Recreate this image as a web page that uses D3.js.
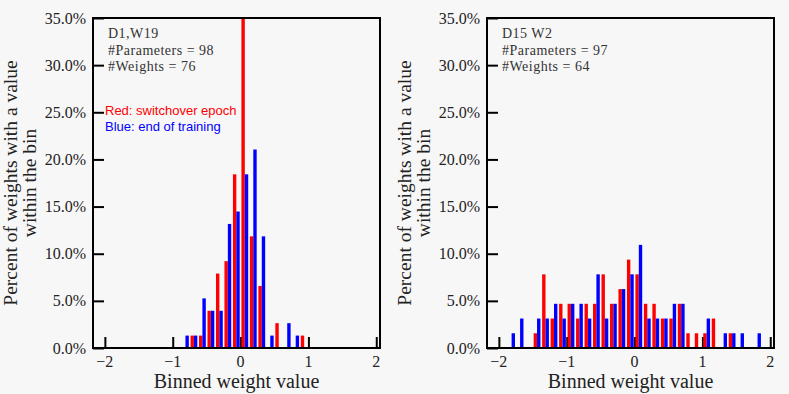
<!DOCTYPE html>
<html><head><meta charset="utf-8">
<script src="https://cdn.jsdelivr.net/npm/d3@7"></script>
<style>html,body{margin:0;padding:0;background:#f7f7f7;}</style>
</head><body>
<svg id="chart" width="789" height="394"></svg>
<script>
const binWidth = 0.125;
const xTicks = [-2, -1, 0, 1, 2];
const yTicks = [0, 5, 10, 15, 20, 25, 30, 35];

const leftBins = [-0.875,-0.75,-0.625,-0.5,-0.375,-0.25,-0.125,0,0.125,0.25,0.375,0.5,0.625,0.75,0.875];
const leftRed  = [0,1,1,3,6,7,14,27,9,5,0,2,0,0,1];
const leftBlue = [1,1,4,3,3,10,11,14,16,9,1,0,2,1,0];
const leftInfo = ["D1,W19", "#Parameters = 98", "#Weights = 76"];
const leftWeights = 76;

const rightBins = [-1.875,-1.75,-1.625,-1.5,-1.375,-1.25,-1.125,-1,-0.875,-0.75,-0.625,-0.5,-0.375,-0.25,-0.125,0,0.125,0.25,0.375,0.5,0.625,0.75,0.875,1,1.125,1.25,1.375,1.5,1.625,1.75];
const rightRed  = [0,0,0,1,5,2,3,3,2,3,3,5,3,4,6,5,3,3,2,2,3,1,1,1,2,0,1,0,0,0];
const rightBlue = [1,2,0,2,2,3,2,3,3,2,5,2,3,4,5,7,2,2,2,3,3,0,0,2,0,1,1,1,0,1];
const rightInfo = ["D15 W2", "#Parameters = 97", "#Weights = 64"];
const rightWeights = 64;

const legendLines = [["Red: switchover epoch", "#ff0000"], ["Blue: end of training", "#0000ff"]];

const svg = d3.select("#chart");
svg.append("rect").attr("width", 789).attr("height", 394).attr("fill", "#f7f7f7");

const serif = "'Liberation Serif', 'Times New Roman', serif";
const textCol = "#222";

function panel(idx, x0, x1, bins, red, blue, nW, info, legend) {
  const top = 18, bottom = 348;
  const x = d3.scaleLinear().domain([-2.175, 2.055]).range([x0, x1]);
  const y = d3.scaleLinear().domain([0, 35]).range([bottom, top]);
  const g = svg.append("g");
  const clipId = "clip" + idx;
  g.append("clipPath").attr("id", clipId).append("rect")
    .attr("x", x0).attr("y", top).attr("width", x1 - x0).attr("height", bottom - top);

  // ticks (inward)
  const xAx = d3.axisTop(x).tickValues(xTicks).tickSize(11).tickFormat("");
  g.append("g").attr("transform", `translate(0,${bottom})`).call(xAx)
    .call(s => s.select(".domain").remove())
    .call(s => s.selectAll("line").attr("stroke", "#000").attr("stroke-width", 2));
  const yAx = d3.axisRight(y).tickValues(yTicks).tickSize(11).tickFormat("");
  g.append("g").attr("transform", `translate(${x0},0)`).call(yAx)
    .call(s => s.select(".domain").remove())
    .call(s => s.selectAll("line").attr("stroke", "#000").attr("stroke-width", 2));

  const bars = g.append("g").attr("clip-path", `url(#${clipId})`);
  const data = bins.map((b, i) => ({b, r: red[i] / nW * 100, u: blue[i] / nW * 100}));
  bars.selectAll("rect.red").data(data.filter(d => d.r > 0)).join("rect")
    .attr("x", d => x(d.b + 0.1 * binWidth))
    .attr("width", d => x(d.b + 0.5 * binWidth) - x(d.b + 0.1 * binWidth))
    .attr("y", d => y(d.r)).attr("height", d => y(0) - y(d.r))
    .attr("fill", "#ff0000");
  bars.selectAll("rect.blue").data(data.filter(d => d.u > 0)).join("rect")
    .attr("x", d => x(d.b + 0.5 * binWidth))
    .attr("width", d => x(d.b + 0.9 * binWidth) - x(d.b + 0.5 * binWidth))
    .attr("y", d => y(d.u)).attr("height", d => y(0) - y(d.u))
    .attr("fill", "#0000ff");

  // frame
  g.append("rect").attr("x", x0).attr("y", top).attr("width", x1 - x0).attr("height", bottom - top)
    .attr("fill", "none").attr("stroke", "#000").attr("stroke-width", 2);

  // tick labels
  g.selectAll("text.xt").data(xTicks).join("text")
    .attr("x", d => x(d)).attr("y", 367).attr("text-anchor", "middle")
    .attr("font-family", serif).attr("font-size", 16).attr("fill", textCol)
    .text(d => d < 0 ? "\u2212" + Math.abs(d) : String(d));
  g.selectAll("text.yt").data(yTicks).join("text")
    .attr("x", x0 - 7).attr("y", d => y(d) + 5.5).attr("text-anchor", "end")
    .attr("font-family", serif).attr("font-size", 16).attr("fill", textCol)
    .text(d => d.toFixed(1) + "%");

  // axis labels
  g.append("text").attr("x", (x0 + x1) / 2).attr("y", 388).attr("text-anchor", "middle")
    .attr("font-family", serif).attr("font-size", 20).attr("fill", textCol)
    .text("Binned weight value");
  const cy = (top + bottom) / 2;
  const lx = x0 - 76.5;
  g.append("text").attr("transform", `translate(${lx},${cy}) rotate(-90)`).attr("text-anchor", "middle")
    .attr("font-family", serif).attr("font-size", 19.5).attr("fill", textCol)
    .text("Percent of weights with a value");
  g.append("text").attr("transform", `translate(${lx + 19},${cy}) rotate(-90)`).attr("text-anchor", "middle")
    .attr("font-family", serif).attr("font-size", 19.5).attr("fill", textCol)
    .text("within the bin");

  // info
  g.selectAll("text.info").data(info).join("text")
    .attr("x", x0 + 15).attr("y", (d, i) => 38 + i * 16.5)
    .attr("font-family", serif).attr("font-size", 14).attr("fill", "#333")
    .attr("letter-spacing", 0.5)
    .text(d => d);

  if (legend) {
    g.selectAll("text.leg").data(legend).join("text")
      .attr("x", x0 + 12).attr("y", (d, i) => 115 + i * 15.5)
      .attr("font-family", "'Liberation Sans', Arial, sans-serif").attr("font-size", 13)
      .attr("fill", d => d[1]).text(d => d[0]);
  }
}

panel(0, 93, 380, leftBins, leftRed, leftBlue, leftWeights, leftInfo, legendLines);
panel(1, 487, 774, rightBins, rightRed, rightBlue, rightWeights, rightInfo, null);
</script>
</body></html>
